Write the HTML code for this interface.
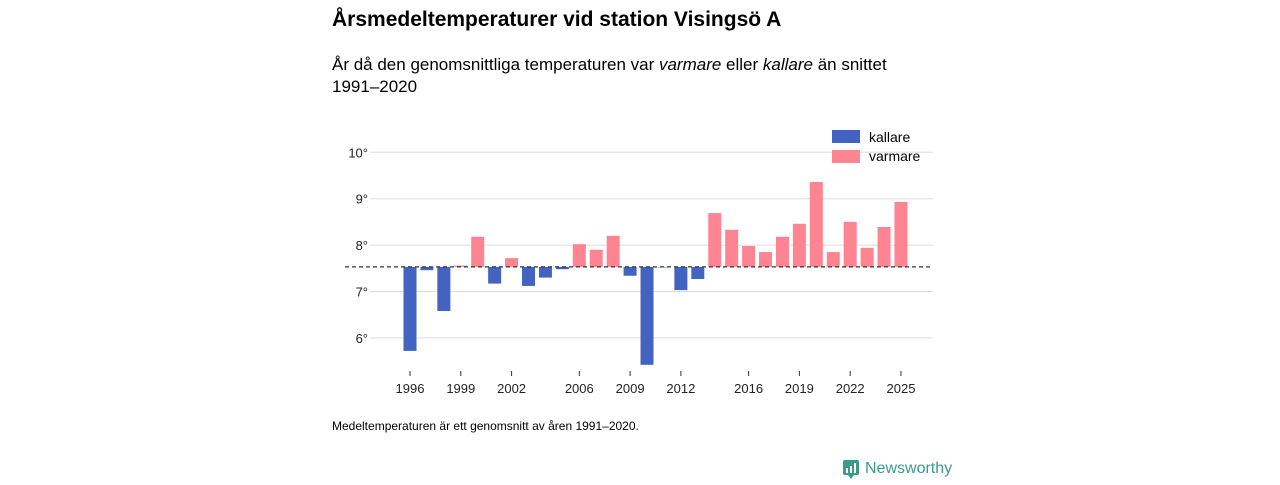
<!DOCTYPE html>
<html><head><meta charset="utf-8"><style>
body{margin:0;width:1280px;height:480px;background:#fff;font-family:"Liberation Sans","DejaVu Sans",sans-serif;color:#111;overflow:hidden}
</style></head><body>
<svg width="1280" height="480">
<text x="332" y="26" font-size="21" font-weight="bold">Årsmedeltemperaturer vid station Visingsö A</text>
<text x="332" y="70" font-size="17">År då den genomsnittliga temperaturen var <tspan font-style="italic">varmare</tspan> eller <tspan font-style="italic">kallare</tspan> än snittet</text>
<text x="332" y="92" font-size="17">1991–2020</text>
<g id="grid"></g><g id="bars"></g><g id="xt"></g>
<g>
<rect x="832" y="130" width="28" height="13" fill="#4263c0"/>
<text x="869" y="142" font-size="14">kallare</text>
<rect x="832" y="150" width="28" height="13" fill="#ff8492"/>
<text x="869" y="161" font-size="14">varmare</text>
</g>
<text x="332" y="430" font-size="12">Medeltemperaturen är ett genomsnitt av åren 1991–2020.</text>
<g>
<rect x="843" y="460" width="16" height="15" rx="2" fill="#3a9a8c"/>
<path d="M848 475 l3 4 l3 -4z" fill="#3a9a8c"/>
<rect x="846" y="468" width="2" height="5" fill="#fff"/><rect x="850" y="466" width="2" height="7" fill="#fff"/><rect x="854" y="463" width="2" height="10" fill="#fff"/>
<text x="865" y="473" font-size="16" fill="#3a9a8c">Newsworthy</text>
</g>
</svg>
<script>
const years=[1996,1997,1998,1999,2000,2001,2002,2003,2004,2005,2006,2007,2008,2009,2010,2011,2012,2013,2014,2015,2016,2017,2018,2019,2020,2021,2022,2023,2024,2025];
const temps=[5.72,7.46,6.58,7.56,8.18,7.17,7.72,7.12,7.30,7.48,8.02,7.90,8.20,7.34,5.42,7.52,7.03,7.27,8.69,8.33,7.98,7.85,8.18,8.46,9.36,7.85,8.50,7.94,8.39,8.93];
const yTicks=[6,7,8,9,10];
const xTickYears=[1996,1999,2002,2006,2009,2012,2016,2019,2022,2025];
const baseline=7.53;
const NS="http://www.w3.org/2000/svg";
const y=v=>291.5-(v-7)*46.4;
const x=yr=>410+(yr-1996)*16.93;
function mk(t,a,p){const e=document.createElementNS(NS,t);for(const k in a)e.setAttribute(k,a[k]);document.getElementById(p).appendChild(e);return e;}
yTicks.forEach(v=>{
 const l=mk('line',{x1:370,x2:933,y1:y(v),y2:y(v),stroke:'#ddd'},'grid');
 
 
 const t=mk('text',{x:368,y:y(v)+5,'font-size':13,'text-anchor':'end',fill:'#222'},'grid');
 t.textContent=v+'°';
 
 
});
years.forEach((yr,i)=>{
 const v=temps[i];const y0=y(baseline),y1=y(v);
 const r=mk('rect',{x:x(yr)-6.5,width:13,y:Math.min(y0,y1),height:Math.max(Math.abs(y1-y0),0.5),fill:v<baseline?'#4263c0':'#ff8492'},'bars');
 
 
});
const bl=mk('line',{x1:345,x2:933,y1:y(baseline),y2:y(baseline),stroke:'#333','stroke-dasharray':'4,3','stroke-width':1.3},'bars');


xTickYears.forEach(yr=>{
 const t=mk('text',{x:x(yr),y:393,'font-size':13,'text-anchor':'middle',fill:'#222'},'xt');
 t.textContent=yr;
 
 
 const k=mk('line',{x1:x(yr),x2:x(yr),y1:371,y2:376,stroke:'#333'},'xt');
 
 
});
</script>
</body></html>
